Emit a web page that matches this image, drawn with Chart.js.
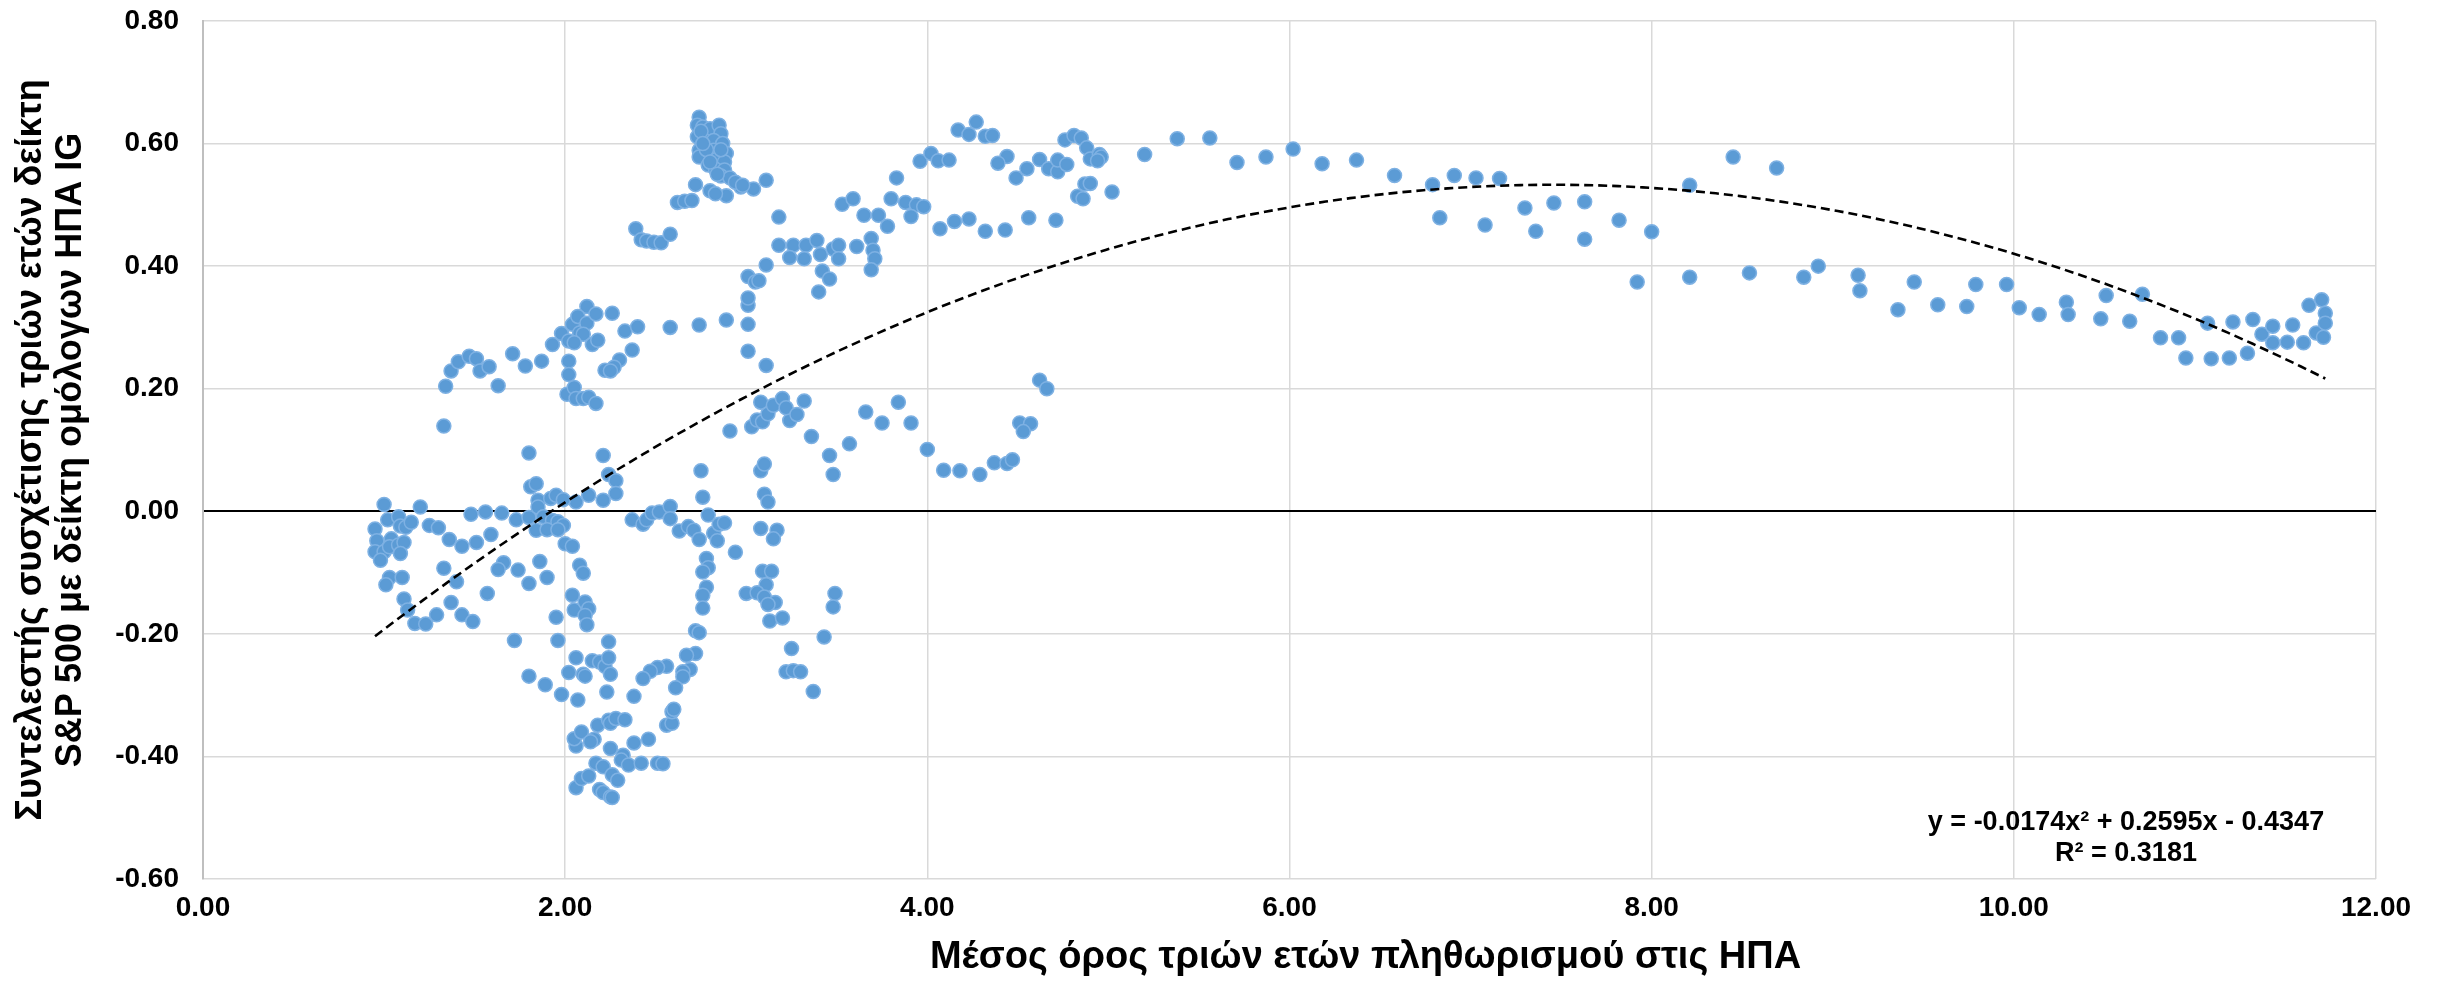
<!DOCTYPE html>
<html>
<head>
<meta charset="utf-8">
<script src="https://cdn.jsdelivr.net/npm/chart.js@4.4.0/dist/chart.umd.min.js"></script>
<style>
  html, body { margin: 0; padding: 0; background: #fff; }
</style>
</head>
<body>
<canvas id="scatterChart" width="2437" height="983"></canvas>
<script>
// 3-year average US inflation (x) vs 3-year correlation S&P 500 / US IG bonds (y)
const inflationAvg = [
  1.00, 0.95, 1.02, 1.08, 1.09, 1.12, 1.15, 0.96, 0.95, 1.00, 0.98, 1.04, 1.03, 1.08, 1.11, 1.09,
  1.03, 1.01, 1.10, 1.11, 1.13, 1.17, 1.23, 1.29, 1.20, 1.25, 1.30, 1.36, 1.43, 1.51, 1.59, 1.48,
  1.56, 1.65, 1.73, 1.80, 1.33, 1.40, 1.37, 1.43, 1.49, 1.57, 1.66, 1.63, 1.74, 1.80, 1.86, 1.90,
  1.72, 1.80, 1.89, 1.96, 1.95, 1.98, 2.02, 2.07, 2.06, 2.10, 2.11, 2.15, 2.19, 2.22, 2.24, 2.24,
  2.25, 2.23, 1.34, 1.63, 1.33, 2.01, 2.05, 2.06, 2.10, 2.13, 2.17, 1.80, 1.81, 1.84, 2.21, 2.24,
  2.28, 2.28, 2.21, 2.13, 2.06, 1.85, 1.92, 1.95, 1.99, 1.85, 1.88, 1.93, 1.96, 1.99, 1.84, 1.90,
  1.96, 2.00, 2.04, 2.08, 2.10, 2.04, 2.05, 2.11, 2.13, 2.11, 2.12,
  2.06, 2.09, 2.13, 2.19, 2.21, 2.25, 2.26, 2.17, 2.21, 2.26, 2.29, 2.32, 2.31, 2.35, 2.42, 2.51,
  2.54, 2.25, 2.38, 2.46, 2.06, 2.05, 2.09, 2.16, 2.14, 2.18, 2.24, 2.25, 2.28, 2.33, 2.56, 2.59,
  2.59, 2.60,
  2.37, 2.43, 2.45, 2.48, 2.52, 2.58, 2.58, 2.63, 2.68, 2.71, 2.74, 2.75, 2.76, 2.79, 2.82, 2.84,
  2.85, 2.88, 2.94, 2.78, 2.79, 2.76, 2.78, 2.76, 2.76, 2.72, 2.74, 2.72, 2.67, 2.69, 2.65, 2.65,
  2.61, 2.56, 2.51, 2.47, 2.43, 2.38, 2.91, 3.03, 3.06, 3.09, 3.12, 3.08, 3.15, 3.20, 3.24, 3.22,
  3.28, 3.32, 3.36, 3.46, 3.48, 3.57, 3.66, 3.75, 3.84, 3.91, 4.00, 4.09, 4.18, 4.29, 4.37, 4.44,
  4.47, 4.51, 4.57, 4.53, 4.62, 4.66, 3.08, 3.10, 3.10, 3.12, 3.08, 3.17, 3.15, 3.09, 3.14, 3.11,
  3.00, 3.06, 3.10, 3.16, 3.12, 3.13, 3.20, 3.49, 3.48, 3.43, 3.25, 3.22, 3.26, 3.30, 3.37,
  1.37, 1.41, 1.47, 1.51, 1.53, 1.58, 1.71, 1.78, 1.87, 1.93, 1.98, 2.04, 2.08, 2.12, 2.07, 2.12,
  2.17, 2.10, 2.02, 2.05, 2.15, 2.18, 2.02, 2.02, 2.26, 2.33, 2.40, 2.37, 2.30, 2.27, 2.22, 2.25,
  2.58, 2.74, 2.89, 3.01, 3.01, 3.11, 3.01, 3.01, 3.01, 3.05, 3.07, 3.11, 3.18, 3.18, 3.26, 3.24,
  3.33, 3.32, 3.39, 3.41, 3.42, 3.46, 3.40, 3.48, 3.51, 3.51, 3.61, 3.53, 3.59, 3.65, 3.69, 3.70,
  3.71, 3.69, 2.39, 2.42, 2.45, 2.49, 2.53, 2.58, 2.62, 2.66, 2.70, 2.72, 2.80, 2.89, 2.97, 3.04,
  3.11,
  2.74, 2.73, 2.76, 2.80, 2.85, 2.86, 2.73, 2.77, 2.82, 2.87, 2.74, 2.82, 2.89, 2.74, 2.84, 2.88,
  2.79, 2.83, 2.88, 2.86, 2.91, 2.94, 2.98, 2.83, 2.75, 2.78, 2.80, 2.76, 2.86, 2.84, 3.83, 3.96,
  3.80, 3.88, 3.94, 3.91, 3.73, 3.78, 3.98,
  4.02, 4.06, 4.12, 4.17, 4.23, 4.27, 4.32, 4.36, 4.44, 4.39, 4.49, 4.55, 4.62, 4.67, 4.72, 4.72,
  4.77, 4.76, 4.81, 4.85, 4.88, 4.90, 4.95, 4.96, 4.94, 4.87, 4.90, 4.83, 4.86, 5.02, 5.20, 5.38,
  5.56, 5.71, 5.87, 6.02, 6.18, 6.37, 6.58, 6.79, 6.83, 6.91, 7.03, 7.08, 7.16, 4.07, 4.15, 4.23,
  4.32, 4.43, 4.56, 4.71,
  7.30, 7.36, 7.46, 7.63, 7.63, 7.82, 7.92, 8.00, 8.21, 8.21, 8.45, 8.54, 8.69, 8.84, 8.92, 9.14,
  9.15, 9.36, 9.45, 9.58,
  9.74, 9.79, 9.96, 10.03, 10.14, 10.29, 10.30, 10.48, 10.51, 10.64, 10.71, 10.81, 10.91, 10.95,
  11.07, 11.09, 11.19, 11.21, 11.29, 11.32, 11.37, 11.43, 11.43, 11.51, 11.54, 11.60, 11.63, 11.67,
  11.70, 11.71, 11.72, 11.72
];

const correlation = [
  0.011, -0.029, -0.014, -0.009, -0.024, -0.026, -0.018, -0.048, -0.066, -0.066, -0.080, -0.045, -0.058, -0.055, -0.051, -0.069,
  -0.108, -0.120, -0.108, -0.143, -0.161, -0.183, -0.184, -0.169, 0.007, -0.023, -0.027, -0.046, -0.057, -0.051, -0.038, -0.005,
  -0.001, -0.003, -0.014, -0.010, -0.093, -0.115, -0.149, -0.169, -0.180, -0.134, -0.084, -0.095, -0.096, -0.118, -0.082, -0.108,
  -0.211, -0.269, -0.283, -0.211, -0.173, -0.299, -0.263, -0.308, -0.239, -0.266, -0.269, -0.244, -0.246, -0.253, -0.213, -0.239,
  -0.266, -0.295, 0.204, 0.205, 0.139, 0.191, 0.202, 0.184, 0.184, 0.186, 0.176, 0.095, 0.040, 0.045, 0.091, 0.060,
  0.050, 0.029, 0.018, 0.026, 0.015, 0.018, 0.021, 0.026, 0.019, 0.007, -0.009, -0.015, -0.017, -0.023, -0.031, -0.030,
  -0.030, -0.053, -0.057, -0.088, -0.101, -0.137, -0.161, -0.148, -0.159, -0.170, -0.185,
  -0.451, -0.436, -0.432, -0.454, -0.459, -0.466, -0.467, -0.411, -0.417, -0.430, -0.439, -0.398, -0.406, -0.414, -0.411, -0.411,
  -0.412, -0.387, -0.378, -0.372, -0.383, -0.371, -0.360, -0.372, -0.376, -0.349, -0.341, -0.346, -0.338, -0.340, -0.349, -0.346,
  -0.327, -0.323,
  -0.014, -0.021, -0.014, -0.003, -0.001, 0.008, -0.012, -0.032, -0.025, -0.031, -0.046, 0.066, 0.023, -0.006, -0.036, -0.048,
  -0.021, -0.019, -0.067, -0.077, -0.092, -0.099, -0.124, -0.137, -0.158, -0.195, -0.198, -0.232, -0.235, -0.258, -0.262, -0.270,
  -0.288, -0.253, -0.255, -0.261, -0.273, -0.302, 0.131, 0.138, 0.149, 0.146, 0.159, 0.178, 0.173, 0.184, 0.148, 0.169,
  0.158, 0.180, 0.122, 0.091, 0.060, 0.110, 0.162, 0.144, 0.178, 0.144, 0.101, 0.067, 0.066, 0.060, 0.079, 0.078,
  0.084, 0.144, 0.143, 0.130, 0.214, 0.200, 0.066, 0.077, 0.028, 0.015, -0.028, -0.031, -0.045, -0.098, -0.098, -0.120,
  -0.134, -0.133, -0.140, -0.149, -0.152, -0.179, -0.174, -0.134, -0.156, -0.205, -0.224, -0.262, -0.260, -0.262, -0.294,
  0.229, 0.244, 0.253, 0.249, 0.229, 0.236, 0.257, 0.237, 0.245, 0.272, 0.290, 0.305, 0.291, 0.334, 0.318, 0.307,
  0.322, 0.289, 0.278, 0.275, 0.272, 0.279, 0.245, 0.223, 0.323, 0.294, 0.301, 0.263, 0.247, 0.235, 0.230, 0.229,
  0.300, 0.304, 0.312, 0.305, 0.261, 0.238, 0.336, 0.348, 0.383, 0.374, 0.376, 0.402, 0.434, 0.480, 0.434, 0.414,
  0.434, 0.412, 0.442, 0.419, 0.392, 0.379, 0.358, 0.428, 0.434, 0.412, 0.432, 0.501, 0.510, 0.483, 0.445, 0.426,
  0.412, 0.394, 0.461, 0.443, 0.441, 0.439, 0.438, 0.452, 0.504, 0.506, 0.507, 0.533, 0.523, 0.515, 0.529, 0.526,
  0.540,
  0.643, 0.630, 0.627, 0.624, 0.630, 0.616, 0.611, 0.605, 0.605, 0.600, 0.589, 0.589, 0.584, 0.578, 0.575, 0.570,
  0.565, 0.558, 0.557, 0.547, 0.544, 0.537, 0.532, 0.518, 0.620, 0.590, 0.570, 0.600, 0.590, 0.550, 0.544, 0.571,
  0.510, 0.504, 0.500, 0.481, 0.483, 0.465, 0.497,
  0.584, 0.572, 0.573, 0.622, 0.615, 0.635, 0.612, 0.613, 0.579, 0.568, 0.544, 0.559, 0.574, 0.559, 0.554, 0.573,
  0.566, 0.606, 0.613, 0.609, 0.593, 0.575, 0.582, 0.578, 0.572, 0.534, 0.535, 0.514, 0.510, 0.521, 0.582, 0.608,
  0.609, 0.569, 0.578, 0.591, 0.567, 0.573, 0.548, 0.533, 0.479, 0.548, 0.544, 0.467, 0.543, 0.461, 0.473, 0.477,
  0.457, 0.459, 0.479, 0.475,
  0.495, 0.457, 0.503, 0.505, 0.444, 0.475, 0.374, 0.456, 0.382, 0.532, 0.578, 0.389, 0.560, 0.382, 0.400, 0.385,
  0.360, 0.329, 0.374, 0.337,
  0.334, 0.370, 0.370, 0.332, 0.321, 0.341, 0.321, 0.314, 0.352, 0.310, 0.354, 0.283, 0.283, 0.250,
  0.307, 0.249, 0.250, 0.309, 0.258, 0.313, 0.289, 0.302, 0.275, 0.276, 0.304, 0.275, 0.336, 0.291,
  0.345, 0.284, 0.323, 0.307
];

const xTicks = [0, 2, 4, 6, 8, 10, 12];
const yTicks = [-0.6, -0.4, -0.2, 0, 0.2, 0.4, 0.6, 0.8];

// polynomial trendline as printed on the chart
const trendCoef = [-0.0174, 0.2595, -0.4347];
const trendFrom = 0.95;
const trendTo = 11.72;
const equationText = ["y = -0.0174x\u00B2 + 0.2595x - 0.4347", "R\u00B2 = 0.3181"];

const xTitle = "Μέσος όρος τριών ετών πληθωρισμού στις ΗΠΑ";
const yTitle = ["Συντελεστής συσχέτισης τριών ετών δείκτη", "S&P 500 με δείκτη ομόλογων ΗΠΑ IG"];

const FONT = "'Liberation Sans', Arial, sans-serif";

const points = inflationAvg.map((x, i) => ({ x: x, y: correlation[i] }));

const trendPoints = [];
for (let i = 0; i <= 80; i++) {
  const x = trendFrom + ((trendTo - trendFrom) * i) / 80;
  trendPoints.push({ x: x, y: trendCoef[0] * x * x + trendCoef[1] * x + trendCoef[2] });
}

// x title (sits a bit right of the plot centre) and the equation / R² label
const extraText = {
  id: "extraText",
  afterDraw(chart) {
    const { ctx, chartArea } = chart;
    ctx.save();
    ctx.fillStyle = "#000";
    ctx.textAlign = "center";
    ctx.textBaseline = "middle";

    ctx.font = `bold 27px ${FONT}`;
    const cx = chartArea.right - 250;
    ctx.fillText(equationText[0], cx, chartArea.bottom - 56);
    ctx.fillText(equationText[1], cx, chartArea.bottom - 25);

    ctx.font = `bold 38px ${FONT}`;
    ctx.fillText(xTitle, (chartArea.left + chartArea.right) / 2 + 76, chartArea.bottom + 79);
    ctx.restore();
  },
};

new Chart("scatterChart", {
  type: "scatter",
  data: {
    datasets: [
      {
        type: "line",
        data: trendPoints,
        borderColor: "#000",
        borderWidth: 2.6,
        borderDash: [9, 5],
        pointRadius: 0,
        fill: false,
        tension: 0,
      },
      {
        data: points,
        backgroundColor: "#5B9BD5",
        borderColor: "#7EB1E3",
        borderWidth: 1.5,
        pointRadius: 7,
      },
    ],
  },
  options: {
    responsive: false,
    animation: false,
    devicePixelRatio: 1,
    layout: { padding: { top: 21, right: 61, left: 0, bottom: 0 } },
    plugins: { legend: { display: false }, tooltip: { enabled: false } },
    scales: {
      x: {
        type: "linear",
        min: 0,
        max: 12,
        afterBuildTicks: (s) => { s.ticks = xTicks.map((v) => ({ value: v })); },
        afterFit: (s) => {
          s.height = 104;
          s.paddingLeft = 0;
          s.paddingRight = 0;
        },
        ticks: {
          callback: (v) => Number(v).toFixed(2),
          font: { family: FONT, size: 28, weight: "bold" },
          color: "#000",
          padding: 12,
          maxRotation: 0,
        },
        grid: { color: "#D9D9D9", lineWidth: 1.5, drawTicks: false },
        border: { display: false },
      },
      y: {
        min: -0.6,
        max: 0.8,
        afterBuildTicks: (s) => { s.ticks = yTicks.map((v) => ({ value: v })); },
        afterFit: (s) => {
          s.width = 203;
          s.paddingTop = 0;
          s.paddingBottom = 0;
        },
        ticks: {
          callback: (v) => Number(v).toFixed(2),
          font: { family: FONT, size: 28, weight: "bold" },
          color: "#000",
          padding: 24,
        },
        grid: {
          color: (c) => (Math.abs(c.tick.value) < 1e-9 ? "#000" : "#D9D9D9"),
          lineWidth: (c) => (Math.abs(c.tick.value) < 1e-9 ? 2 : 1.5),
          drawTicks: false,
        },
        border: { display: true, color: "#BFBFBF", width: 2 },
        title: {
          display: true,
          text: yTitle,
          color: "#000",
          font: { family: FONT, size: 36, weight: "bold", lineHeight: 1.12 },
          padding: { top: 11, bottom: 0 },
        },
      },
    },
  },
  plugins: [extraText],
});
</script>
</body>
</html>
